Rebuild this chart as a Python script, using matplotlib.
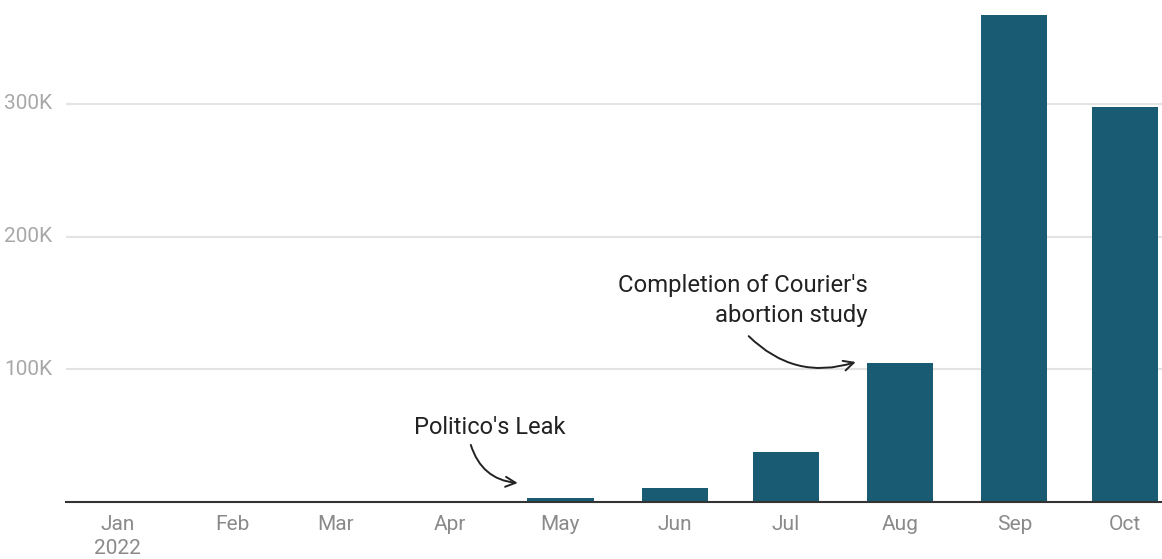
import datetime as dt
import matplotlib
matplotlib.use("Agg")
import matplotlib.pyplot as plt
import matplotlib.dates as mdates

months = ["Jan\n2022", "Feb", "Mar", "Apr", "May", "Jun", "Jul", "Aug", "Sep", "Oct"]
month_starts = [dt.date(2022, m, 1) for m in range(1, 11)]
values = [0, 0, 0, 0, 3000, 10500, 37500, 105000, 367000, 298000]
yticks = [100000, 200000, 300000]
ytick_labels = ["100K", "200K", "300K"]

plt.rcParams['font.family'] = ['Roboto', 'DejaVu Sans']

fig = plt.figure(figsize=(11.62, 5.59), dpi=100)
ax = fig.add_axes([66 / 1162, 57 / 559, 1 - 66 / 1162, 1 - 57 / 559])

ax.bar(month_starts, values, width=17.9, color="#185b73", zorder=3)

ax.set_xlim(dt.date(2021, 12, 18), dt.date(2022, 10, 11))
ax.set_ylim(0, 378300)

ax.set_xticks(month_starts)
ax.set_xticklabels(months, linespacing=1.35)
ax.set_yticks(yticks)
ax.set_yticklabels(ytick_labels)
ax.tick_params(axis='x', length=0, pad=9, labelsize=15, labelcolor="#8a8a8a")
ax.tick_params(axis='y', length=0, pad=10, labelsize=15, labelcolor="#a8a8a8")
for lbl in ax.get_yticklabels():
    lbl.set_verticalalignment('center')

ax.grid(axis='y', color="#e3e3e3", linewidth=1.5, zorder=0)
for s in ['top', 'right', 'left']:
    ax.spines[s].set_visible(False)
ax.spines['bottom'].set_color("#333333")
ax.spines['bottom'].set_linewidth(1.5)
ax.spines['bottom'].set_zorder(4)

d0 = mdates.date2num(dt.date(2022, 1, 1))
ink = "#222222"

# Politico's Leak
ax.text(d0 + 100.9, 56500, "Politico's Leak", ha='center', va='center',
        fontsize=17, color=ink)
ax.annotate("", xy=(d0 + 108.4, 14300), xytext=(d0 + 95.7, 43000),
            arrowprops=dict(arrowstyle='->', color=ink, lw=1.4,
                            shrinkA=0, shrinkB=0,
                            connectionstyle="arc3,rad=0.33", mutation_scale=18))

# Courier's study
ax.text(d0 + 203.3, 152000, "Completion of Courier's\nabortion study",
        ha='right', va='center', multialignment='right', fontsize=17.2,
        color=ink, linespacing=1.37)
ax.annotate("", xy=(d0 + 200.0, 105500), xytext=(d0 + 171.0, 125000),
            arrowprops=dict(arrowstyle='->', color=ink, lw=1.4,
                            shrinkA=0, shrinkB=0,
                            connectionstyle="arc3,rad=0.3", mutation_scale=18))

fig.savefig("out.png", dpi=100, facecolor="white")
